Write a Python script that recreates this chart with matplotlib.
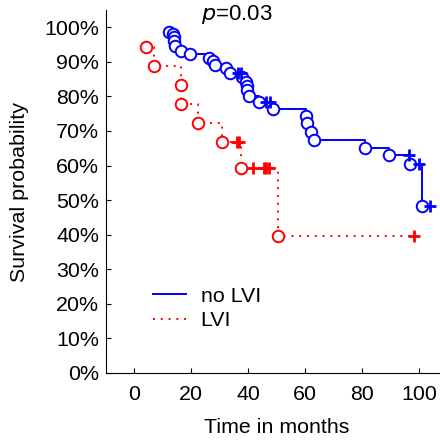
import matplotlib.pyplot as plt
import numpy as np

plt.rcParams['font.family'] = ['Liberation Sans', 'DejaVu Sans']

# no LVI group: event times / survival after event (%), censored times / level
blue_t = [12.3, 13.5, 13.8, 14.0, 14.2, 16.2, 19.4, 26.1, 27.6, 28.4, 32.3, 33.5,
          37.9, 39.1, 39.4, 39.6, 40.4, 43.7, 48.8, 60.4, 60.7, 61.9, 63.0,
          81.2, 89.4, 96.8, 100.9]
blue_s = [98.7, 98.0, 97.1, 96.0, 94.6, 93.2, 92.3, 91.2, 90.3, 89.0, 88.2, 86.7,
          85.5, 84.3, 83.0, 81.9, 80.2, 78.5, 76.4, 74.2, 72.3, 69.8, 67.4,
          65.0, 63.1, 60.4, 48.4]
blue_ct = [36.5, 37.3, 46.2, 47.6, 96.4, 99.9, 104.0]
blue_cs = [86.7, 86.7, 78.5, 78.5, 63.1, 60.4, 48.4]

# LVI group
red_t = [4.2, 6.7, 16.2, 16.4, 22.2, 30.8, 37.3, 50.5]
red_s = [94.4, 88.9, 83.3, 77.8, 72.2, 66.7, 59.3, 39.5]
red_ct = [36.0, 36.8, 41.7, 45.4, 46.4, 47.3, 98.4]
red_cs = [66.7, 66.7, 59.3, 59.3, 59.3, 59.3, 39.5]

yticks = [0, 10, 20, 30, 40, 50, 60, 70, 80, 90, 100]
xticks = [0, 20, 40, 60, 80, 100]


def merged(t, s, ct, cs):
    tt = np.array(t + ct)
    ss = np.array(s + cs)
    o = np.argsort(tt, kind='stable')
    return tt[o], ss[o]


fig = plt.figure(figsize=(4.4, 4.43), dpi=100)
ax = fig.add_axes([106/440, 70/443, 341.4/440, 363/443])

for t, s, ct, cs, col, ls, lab in [
        (blue_t, blue_s, blue_ct, blue_cs, 'blue', '-', 'no LVI'),
        (red_t, red_s, red_ct, red_cs, 'red', (0, (1, 3)), 'LVI')]:
    tt, ss = merged(t, s, ct, cs)
    ax.step(tt, ss, where='post', color=col, linestyle=ls, lw=1.4, label=lab)
    ax.plot(t, s, 'o', mfc='white', mec=col, ms=8.3, mew=1.4, ls='none')
    ax.plot(ct, cs, '+', color=col, ms=9, mew=2, ls='none')

fs = 15.4
ax.set_xlim(-10, 110)
ax.set_ylim(0, 105)
ax.set_xticks(xticks)
ax.set_yticks(yticks)
ax.set_yticklabels([f'{v}%' for v in yticks])
ax.tick_params(direction='in', length=3.5, width=0.8, labelsize=fs, pad=5)
ax.tick_params(axis='x', pad=9)
for sp in ['top', 'right']:
    ax.spines[sp].set_visible(False)
ax.set_xlabel('Time in months', fontsize=fs, labelpad=10)
ax.set_ylabel('Survival probability', fontsize=fs, labelpad=11)
ax.text(36, 103.6, '$p$=0.03', fontsize=fs + 0.6, ha='center', va='center',
        math_fontfamily='dejavusans')
ax.legend(loc='upper left', bbox_to_anchor=(0.08, 0.29), frameon=False,
          fontsize=fs, handlelength=1.55, handletextpad=0.7, labelspacing=0.25)

fig.savefig('out.png', dpi=100)
